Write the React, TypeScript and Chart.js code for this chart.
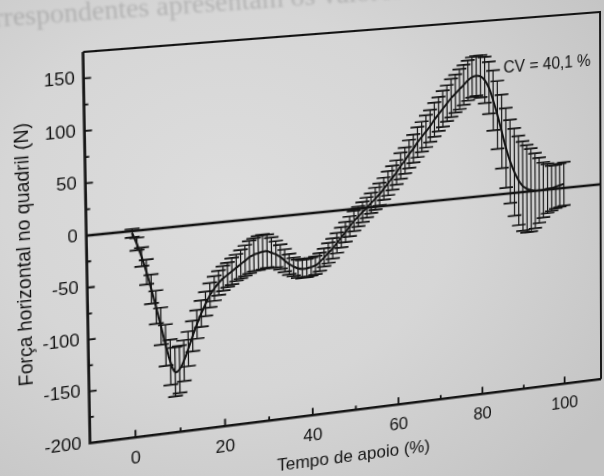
import React, { useEffect, useRef } from "react";
import { Chart, registerables } from "chart.js";

Chart.register(...registerables);

// ---- data -----------------------------------------------------------
const stancePct = [
  0, 1, 2, 3, 4, 5, 6, 7, 8, 9, 10, 11, 12, 13, 14, 15, 16, 17, 18, 19, 20,
  21, 22, 23, 24, 25, 26, 27, 28, 29, 30, 31, 32, 33, 34, 35, 36, 37, 38, 39, 40,
  41, 42, 43, 44, 45, 46, 47, 48, 49, 50, 51, 52, 53, 54, 55, 56, 57, 58, 59, 60,
  61, 62, 63, 64, 65, 66, 67, 68, 69, 70, 71, 72, 73, 74, 75, 76, 77, 78, 79, 80,
  81, 82, 83, 84, 85, 86, 87, 88, 89, 90, 91, 92, 93, 94, 95, 96, 97, 98, 99, 100,
];

const meanForce = [
  -2, -13, -26, -41, -58, -76, -95, -114, -131, -141, -139,
  -131, -120, -108, -97, -87, -78, -70, -64, -59, -55,
  -52, -49, -46, -43, -40, -37, -35, -34, -33, -33,
  -35, -37, -40, -44, -48, -51, -53, -54, -54, -53,
  -52, -49, -45, -41, -37, -32, -27, -22, -17, -12,
  -8, -4, 0, 4, 8, 12, 17, 22, 27, 32,
  38, 43, 49, 54, 60, 65, 70, 75, 81, 86,
  91, 96, 101, 105, 109, 113, 117, 120, 121, 120,
  116, 108, 95, 80, 63, 46, 32, 21, 12, 6,
  3, 1, 0, 0, 0, 1, 1, 2, 3, 4,
];

const sdForce = [
  4, 6, 9, 12, 14, 16, 18, 20, 22, 24, 23,
  20, 17, 15, 14, 13, 12, 12, 12, 12, 12,
  12, 13, 13, 14, 15, 16, 16, 17, 17, 16,
  15, 13, 12, 11, 10, 9, 9, 9, 9, 9,
  9, 9, 9, 10, 10, 10, 10, 10, 10, 10,
  10, 10, 10, 10, 11, 11, 11, 12, 12, 12,
  13, 13, 14, 14, 15, 15, 16, 16, 17, 17,
  18, 18, 19, 19, 20, 20, 20, 20, 20, 21,
  23, 26, 30, 34, 37, 40, 42, 44, 45, 45,
  44, 42, 38, 33, 28, 25, 23, 22, 22, 22,
];

const xMajorTicks = [0, 20, 40, 60, 80, 100];
const xMinorTicks = [10, 30, 50, 70, 90];
const yMajorTicks = [-200, -150, -100, -50, 0, 50, 100, 150];
const yMinorTicks = [-175, -125, -75, -25, 25, 75, 125];

const X_MIN = -10;
const X_MAX = 109;
const Y_MIN = -200;
const Y_MAX = 175;

const xTitle = "Tempo de apoio (%)";
const yTitle = "Força horizontal no quadril (N)";
const cvText = "CV = 40,1 %";
const cvAtX = 85.5;
const cvAtY = 126;

// where the plot frame corners sit in the photographed page (TL, TR, BL, BR)
const frameCorners = [
  [83, 52],
  [600, 12],
  [90, 443],
  [601, 379],
];

const INK = "#141414";
const FONT = "'Liberation Sans', Arial, sans-serif";

// ---- helpers --------------------------------------------------------
function solve(A: number[][], b: number[]): number[] {
  const n = b.length;
  const M = A.map((r, i) => [...r, b[i]]);
  for (let c = 0; c < n; c++) {
    let p = c;
    for (let r = c + 1; r < n; r++) if (Math.abs(M[r][c]) > Math.abs(M[p][c])) p = r;
    [M[c], M[p]] = [M[p], M[c]];
    for (let r = 0; r < n; r++) {
      if (r === c) continue;
      const f = M[r][c] / M[c][c];
      for (let k = c; k <= n; k++) M[r][k] -= f * M[c][k];
    }
  }
  return M.map((r, i) => r[n] / r[i]);
}

function homographyCss(src: number[][], dst: number[][]): string {
  const A: number[][] = [];
  const b: number[] = [];
  for (let i = 0; i < 4; i++) {
    const [x, y] = src[i];
    const [u, v] = dst[i];
    A.push([x, y, 1, 0, 0, 0, -u * x, -u * y]);
    b.push(u);
    A.push([0, 0, 0, x, y, 1, -v * x, -v * y]);
    b.push(v);
  }
  const h = solve(A, b);
  return `matrix3d(${h[0]},${h[3]},0,${h[6]},${h[1]},${h[4]},0,${h[7]},0,0,1,0,${h[2]},${h[5]},0,1)`;
}

const decorPlugin = {
  id: "decor",
  beforeDatasetsDraw(chart: any) {
    const { ctx, chartArea: a } = chart;
    const xs = chart.scales.x;
    const ys = chart.scales.y;
    ctx.save();
    ctx.strokeStyle = INK;
    ctx.lineCap = "butt";
    // zero reference line
    ctx.lineWidth = 2.6;
    const y0 = ys.getPixelForValue(0);
    ctx.beginPath();
    ctx.moveTo(a.left, y0);
    ctx.lineTo(a.right, y0);
    ctx.stroke();
    // error bars
    for (let i = 0; i < stancePct.length; i++) {
      const px = xs.getPixelForValue(stancePct[i]);
      const top = ys.getPixelForValue(meanForce[i] + sdForce[i]);
      const bot = ys.getPixelForValue(meanForce[i] - sdForce[i]);
      ctx.lineWidth = 1.2;
      ctx.beginPath();
      ctx.moveTo(px, top);
      ctx.lineTo(px, bot);
      ctx.stroke();
      ctx.lineWidth = 1.7;
      ctx.beginPath();
      ctx.moveTo(px - 7, top);
      ctx.lineTo(px + 7, top);
      ctx.moveTo(px - 7, bot);
      ctx.lineTo(px + 7, bot);
      ctx.stroke();
    }
    ctx.restore();
  },
  afterDatasetsDraw(chart: any) {
    const { ctx, chartArea: a } = chart;
    const xs = chart.scales.x;
    const ys = chart.scales.y;
    ctx.save();
    ctx.strokeStyle = INK;
    // frame
    ctx.lineWidth = 2;
    ctx.beginPath();
    ctx.moveTo(a.left, a.top);
    ctx.lineTo(a.right, a.top);
    ctx.lineTo(a.right, a.bottom);
    ctx.stroke();
    ctx.lineWidth = 2.6;
    ctx.beginPath();
    ctx.moveTo(a.left, a.top);
    ctx.lineTo(a.left, a.bottom);
    ctx.lineTo(a.right, a.bottom);
    ctx.stroke();
    // inward ticks
    ctx.lineWidth = 1.8;
    ctx.beginPath();
    xMajorTicks.forEach((v) => {
      const p = xs.getPixelForValue(v);
      ctx.moveTo(p, a.bottom);
      ctx.lineTo(p, a.bottom - 7);
    });
    xMinorTicks.forEach((v) => {
      const p = xs.getPixelForValue(v);
      ctx.moveTo(p, a.bottom);
      ctx.lineTo(p, a.bottom - 4);
    });
    yMajorTicks.forEach((v) => {
      const p = ys.getPixelForValue(v);
      ctx.moveTo(a.left, p);
      ctx.lineTo(a.left + 7, p);
    });
    yMinorTicks.forEach((v) => {
      const p = ys.getPixelForValue(v);
      ctx.moveTo(a.left, p);
      ctx.lineTo(a.left + 4, p);
    });
    ctx.stroke();
    // CV annotation
    ctx.fillStyle = INK;
    ctx.font = `16px ${FONT}`;
    ctx.textAlign = "left";
    ctx.textBaseline = "middle";
    ctx.fillText(cvText, xs.getPixelForValue(cvAtX), ys.getPixelForValue(cvAtY));
    ctx.restore();
  },
};

export default function App() {
  const canvasRef = useRef<HTMLCanvasElement | null>(null);

  useEffect(() => {
    const canvas = canvasRef.current;
    if (!canvas) return;
    const chart = new Chart(canvas, {
      type: "line",
      data: {
        datasets: [
          {
            data: stancePct.map((x, i) => ({ x, y: meanForce[i] })),
            borderColor: INK,
            borderWidth: 2,
            pointRadius: 0,
            tension: 0.4,
            fill: false,
          },
        ],
      },
      options: {
        responsive: false,
        animation: false,
        events: [],
        layout: { padding: { top: 32, right: 3, left: 26, bottom: 24 } },
        plugins: { legend: { display: false }, tooltip: { enabled: false } },
        scales: {
          x: {
            type: "linear",
            min: X_MIN,
            max: X_MAX,
            grid: { display: false, drawTicks: false },
            border: { display: false },
            afterBuildTicks: (s: any) => {
              s.ticks = xMajorTicks.map((v) => ({ value: v }));
            },
            ticks: {
              color: INK,
              font: { family: FONT, size: 17 },
              padding: 10,
              maxRotation: 0,
              autoSkip: false,
            },
            title: {
              display: true,
              text: xTitle,
              color: INK,
              font: { family: FONT, size: 17 },
              padding: { top: -5, bottom: 0 },
            },
          },
          y: {
            type: "linear",
            min: Y_MIN,
            max: Y_MAX,
            grid: { display: false, drawTicks: false },
            border: { display: false },
            afterBuildTicks: (s: any) => {
              s.ticks = yMajorTicks.map((v) => ({ value: v }));
            },
            ticks: {
              color: INK,
              font: { family: FONT, size: 17 },
              padding: 8,
              autoSkip: false,
            },
            title: {
              display: true,
              text: yTitle,
              color: INK,
              font: { family: FONT, size: 18 },
              padding: { top: 0, bottom: -4 },
            },
          },
        },
      },
      plugins: [decorPlugin],
    } as any);

    const a = chart.chartArea;
    const src = [
      [a.left, a.top],
      [a.right, a.top],
      [a.left, a.bottom],
      [a.right, a.bottom],
    ];
    canvas.style.transformOrigin = "0 0";
    canvas.style.transform = homographyCss(src, frameCorners);

    return () => {
      chart.destroy();
    };
  }, []);

  return (
    <div
      style={{
        position: "fixed",
        left: 0,
        top: 0,
        width: 604,
        height: 476,
        overflow: "hidden",
        background:
          "radial-gradient(ellipse 75% 80% at 38% 42%, #dddddd 0%, #d6d6d6 50%, #c4c4c4 100%)",
      }}
    >
      <div
        style={{
          position: "absolute",
          left: -6,
          top: 2,
          fontFamily: "'Liberation Serif', serif",
          fontSize: 28,
          color: "rgba(40,40,40,0.2)",
          whiteSpace: "nowrap",
          transform: "rotate(-4deg)",
          transformOrigin: "0 50%",
          filter: "blur(0.8px)",
        }}
      >
        rrespondentes apresentam os valores de
      </div>
      <canvas
        ref={canvasRef}
        width={604}
        height={476}
        style={{ position: "absolute", left: 0, top: 0 }}
      />
    </div>
  );
}
